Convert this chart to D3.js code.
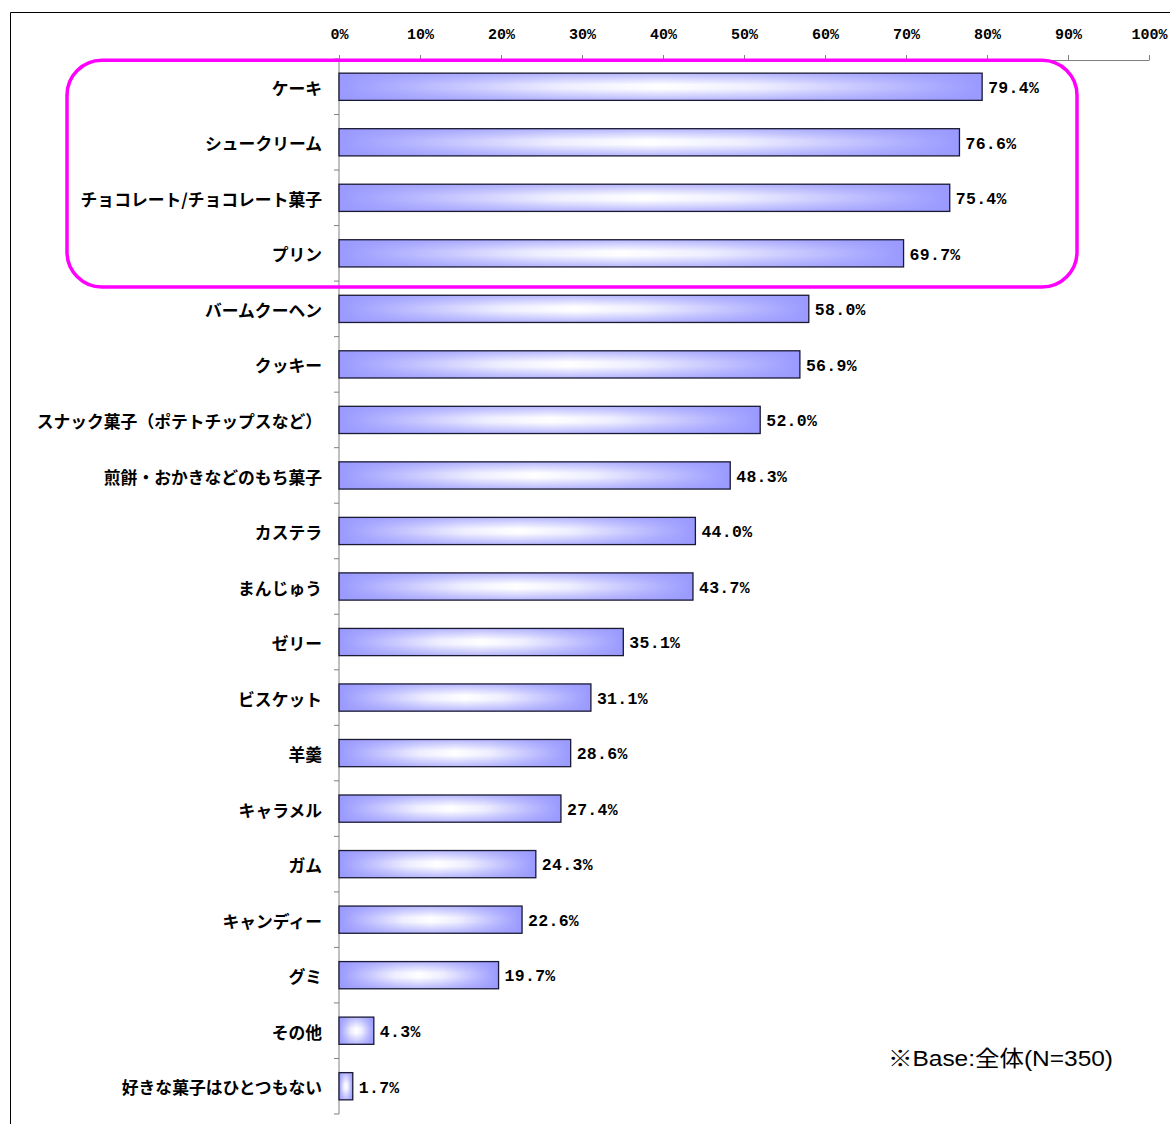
<!DOCTYPE html>
<html>
<head>
<meta charset="utf-8">
<script src="https://cdn.jsdelivr.net/npm/d3@7"></script>
<style>
  body { margin: 0; background: #fff; }
</style>
</head>
<body>
<script>
// 画布大小
const width = 1170;
const height = 1124;

// データ
const categories = [
  'ケーキ', 'シュークリーム', 'チョコレート/チョコレート菓子', 'プリン',
  'バームクーヘン', 'クッキー', 'スナック菓子（ポテトチップスなど）',
  '煎餅・おかきなどのもち菓子', 'カステラ', 'まんじゅう', 'ゼリー',
  'ビスケット', '羊羹', 'キャラメル', 'ガム', 'キャンディー', 'グミ',
  'その他', '好きな菓子はひとつもない'
];
const values = [79.4, 76.6, 75.4, 69.7, 58.0, 56.9, 52.0, 48.3, 44.0, 43.7,
  35.1, 31.1, 28.6, 27.4, 24.3, 22.6, 19.7, 4.3, 1.7];
const xTicks = [0, 10, 20, 30, 40, 50, 60, 70, 80, 90, 100];
const highlighted = categories.slice(0, 4);
const note = '※Base:全体(N=350)';

const svg = d3.select('body').append('svg')
  .attr('width', width)
  .attr('height', height);

// グラデーション
const defs = svg.append('defs');
const gH = defs.append('linearGradient').attr('id', 'gradH')
  .attr('x1', '0%').attr('x2', '100%').attr('y1', '0%').attr('y2', '0%');
gH.append('stop').attr('offset', '0%').attr('stop-color', '#9999ff');
gH.append('stop').attr('offset', '35%').attr('stop-color', '#eeeeff');
gH.append('stop').attr('offset', '50%').attr('stop-color', '#ffffff');
gH.append('stop').attr('offset', '65%').attr('stop-color', '#eeeeff');
gH.append('stop').attr('offset', '100%').attr('stop-color', '#9999ff');
const gV = defs.append('linearGradient').attr('id', 'gradV')
  .attr('x1', '0%').attr('x2', '0%').attr('y1', '0%').attr('y2', '100%');
gV.append('stop').attr('offset', '0%').attr('stop-color', '#9999ff').attr('stop-opacity', 0.7);
gV.append('stop').attr('offset', '42%').attr('stop-color', '#9999ff').attr('stop-opacity', 0);
gV.append('stop').attr('offset', '58%').attr('stop-color', '#9999ff').attr('stop-opacity', 0);
gV.append('stop').attr('offset', '100%').attr('stop-color', '#9999ff').attr('stop-opacity', 0.7);

// 外枠
svg.append('path')
  .attr('d', 'M10.5,' + height + ' V12.5 H' + width)
  .attr('fill', 'none')
  .attr('stroke', '#000')
  .attr('stroke-width', 1);

const x = d3.scaleLinear().domain([0, 100]).range([339, 1149]);
const y = d3.scaleBand().domain(categories).range([59, 1114]).paddingInner(0.51).paddingOuter(0.255);

// x軸
const xAxis = svg.append('g')
  .attr('transform', 'translate(0,60)')
  .call(d3.axisTop(x).tickValues(xTicks).tickSize(5).tickSizeOuter(0).tickFormat(d => d + '%'));
xAxis.select('.domain').attr('stroke', '#808080');
xAxis.selectAll('.tick line').attr('stroke', '#808080');
xAxis.selectAll('.tick text')
  .attr('y', -21)
  .attr('font-family', 'Liberation Mono')
  .attr('font-weight', 'bold')
  .attr('font-size', 15)
  .attr('fill', '#000');

// y軸
const yAxis = svg.append('g')
  .attr('transform', 'translate(339,0)');
yAxis.append('line')
  .attr('y1', 59).attr('y2', 1114)
  .attr('stroke', '#808080');
yAxis.selectAll('.yt')
  .data(d3.range(categories.length + 1))
  .enter()
  .append('line')
  .attr('class', 'yt')
  .attr('x1', -5).attr('x2', 0)
  .attr('y1', d => 59 + d * y.step())
  .attr('y2', d => 59 + d * y.step())
  .attr('stroke', '#808080');

// カテゴリ名
svg.selectAll('.cat')
  .data(categories)
  .enter()
  .append('text')
  .attr('class', 'cat')
  .attr('x', 322)
  .attr('y', d => y(d) + y.bandwidth() / 2)
  .attr('dy', '0.48em')
  .attr('text-anchor', 'end')
  .attr('font-family', 'Noto Sans CJK JP')
  .attr('font-weight', 'bold')
  .attr('font-size', 16.8)
  .attr('fill', '#000')
  .text(d => d);

// 棒
const bars = svg.selectAll('.bar')
  .data(values)
  .enter()
  .append('g')
  .attr('class', 'bar');
bars.append('rect')
  .attr('x', x(0))
  .attr('y', (d, i) => y(categories[i]))
  .attr('width', d => x(d) - x(0))
  .attr('height', y.bandwidth())
  .attr('fill', 'url(#gradH)');
bars.append('rect')
  .attr('x', x(0))
  .attr('y', (d, i) => y(categories[i]))
  .attr('width', d => x(d) - x(0))
  .attr('height', y.bandwidth())
  .attr('fill', 'url(#gradV)')
  .attr('stroke', '#1a1a33')
  .attr('stroke-width', 1.3);

// 数値
svg.selectAll('.val')
  .data(values)
  .enter()
  .append('text')
  .attr('class', 'val')
  .attr('x', d => x(d) + 6)
  .attr('y', (d, i) => y(categories[i]) + y.bandwidth() / 2)
  .attr('dy', '0.38em')
  .attr('font-family', 'Liberation Mono')
  .attr('font-weight', 'bold')
  .attr('font-size', 16.5)
  .attr('letter-spacing', 0.3)
  .attr('fill', '#000')
  .text(d => d.toFixed(1) + '%');

// 強調枠
const top4 = y(highlighted[0]);
const bot4 = y(highlighted[highlighted.length - 1]) + y.bandwidth();
svg.append('rect')
  .attr('x', 67)
  .attr('y', top4 - 13)
  .attr('width', 1077 - 67)
  .attr('height', bot4 - top4 + 33)
  .attr('rx', 35)
  .attr('fill', 'none')
  .attr('stroke', '#ff00ff')
  .attr('stroke-width', 3.5);

// 注記
svg.append('text')
  .attr('x', 888)
  .attr('y', 1066)
  .attr('font-family', 'Liberation Sans, Noto Sans CJK JP')
  .attr('font-size', 22)
  .attr('textLength', 225)
  .attr('lengthAdjust', 'spacingAndGlyphs')
  .attr('fill', '#000')
  .text(note);
</script>
</body>
</html>
